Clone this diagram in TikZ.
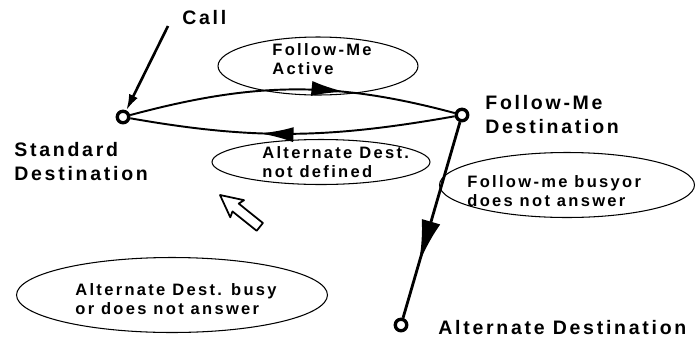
\documentclass[tikz,border=0pt]{standalone}
\usepackage{fontspec}
\setmainfont[LetterSpace=14]{Liberation Sans}
\usetikzlibrary{arrows.meta,decorations.markings,shapes.geometric}

\begin{document}
\begin{tikzpicture}[x=0.02cm,y=0.02cm,
  term/.style={circle,draw,line width=1.9pt,fill=white,inner sep=0pt,minimum size=0.23cm},
  biglabel/.style={font=\bfseries\fontsize{11.1}{13.4}\selectfont,align=left,inner sep=0pt,anchor=north west},
  condshape/.style={ellipse,draw,line width=0.6pt,inner sep=0pt},
  condtext/.style={font=\bfseries\fontsize{9.4}{11.1}\selectfont,align=left,inner sep=0pt,anchor=north west},
  flow/.style={line width=1.1pt},
  calltip/.style={-{Latex[length=3.2mm,width=1.9mm]}},
  fwdtip/.style={postaction={decorate},decoration={markings,
      mark=at position #1 with {\arrow[xscale=2.4,yscale=1.45]{Latex}}}},
  backtip/.style={postaction={decorate},decoration={markings,
      mark=at position #1 with {\arrowreversed[xscale=2.4,yscale=1.45]{Latex}}}},
]
\useasboundingbox (0,0) rectangle (696,-342);

% condition ellipses
\node[condshape,minimum width=4cm,minimum height=1.16cm]   (active)  at (318,-66)  {};
\node[condshape,minimum width=4.36cm,minimum height=0.9cm] (notdef)  at (321,-162) {};
\node[condshape,minimum width=5.1cm,minimum height=1.3cm]  (fmbusy)  at (567,-185) {};
\node[condshape,minimum width=6.22cm,minimum height=1.5cm] (altbusy) at (172,-295) {};

\node[condtext] (activetxt)  at (272,-43)  {Follow-Me\\Active};
\node[condtext] (notdeftxt)  at (262,-146) {Alternate Dest.\\not defined};
\node[condtext] (fmbusytxt)  at (467,-175) {Follow-me busyor\\does not answer};
\node[condtext] (altbusytxt) at (75,-283)  {Alternate Dest. busy\\or does not answer};

% destinations
\node[term] (std) at (123,-117) {};
\node[term] (fm)  at (462,-115) {};
\node[term] (alt) at (401,-325) {};
\coordinate (callin) at (168,-26);

\node[biglabel] (calltxt) at (182,-10)  {Call};
\node[biglabel] (stdtxt)  at (14,-142)  {Standard\\Destination};
\node[biglabel] (fmtxt)   at (485,-95)  {Follow-Me\\Destination};
\node[biglabel] (alttxt)  at (438,-320) {Alternate Destination};

% call routing
\draw[flow,line width=1.5pt,calltip] (callin) -- (std);
\draw[flow,fwdtip=0.66] (std) to[out=15,in=165] (fm);
\draw[flow,backtip=0.40] (std) to[out=-10,in=-170] (fm);
\draw[flow,line width=1.6pt,fwdtip=0.72] (fm) -- (alt);

% hollow return arrow
\begin{scope}[shift={(220,-195)},rotate=141.3]
  \draw[line width=1pt,fill=white,line join=round]
    (0,0) -- (-22,11) -- (-20,5) -- (-51,5) -- (-51,-5) -- (-20,-5) -- (-22,-11) -- cycle;
\end{scope}
\end{tikzpicture}
\end{document}
